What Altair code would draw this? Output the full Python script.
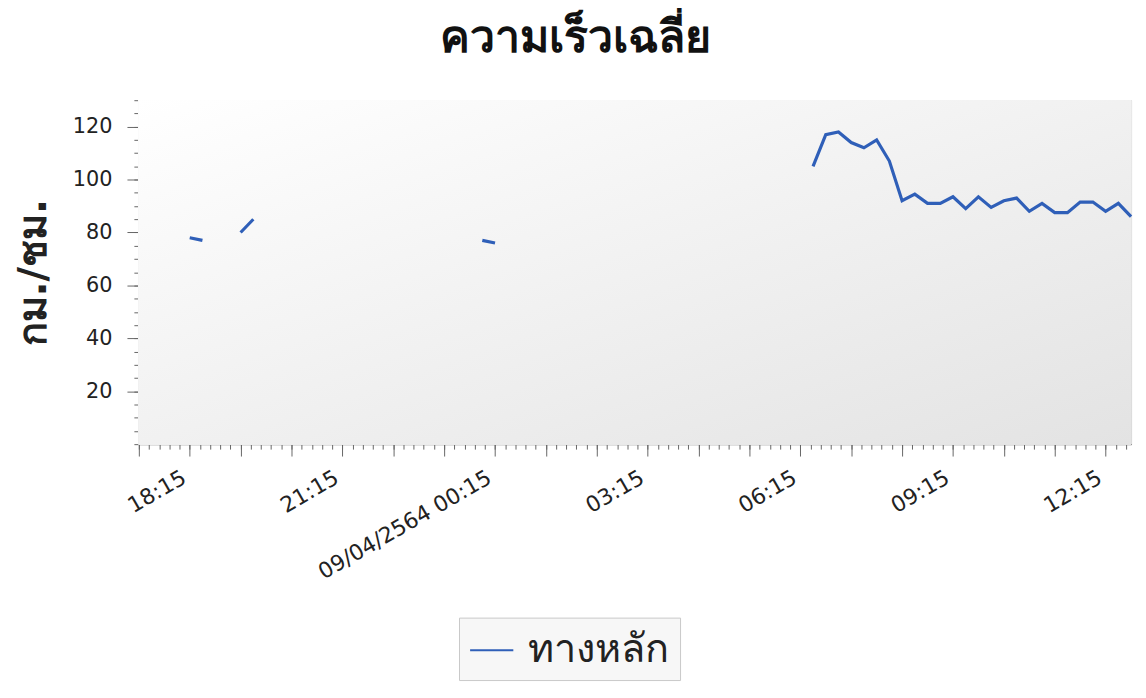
import altair as alt
import pandas as pd

TITLE = "ความเร็วเฉลี่ย"
Y_TITLE = "กม./ชม."
SERIES = "ทางหลัก"
MIDNIGHT_LABEL = "09/04/2564 00:15"

times = [
    "2021-04-08T18:15:00", "2021-04-08T18:30:00", "2021-04-08T18:45:00",
    "2021-04-08T19:15:00", "2021-04-08T19:30:00", "2021-04-08T19:45:00",
    "2021-04-09T00:00:00", "2021-04-09T00:15:00", "2021-04-09T00:30:00",
    "2021-04-09T06:30:00", "2021-04-09T06:45:00", "2021-04-09T07:00:00",
    "2021-04-09T07:15:00", "2021-04-09T07:30:00", "2021-04-09T07:45:00",
    "2021-04-09T08:00:00", "2021-04-09T08:15:00", "2021-04-09T08:30:00",
    "2021-04-09T08:45:00", "2021-04-09T09:00:00", "2021-04-09T09:15:00",
    "2021-04-09T09:30:00", "2021-04-09T09:45:00", "2021-04-09T10:00:00",
    "2021-04-09T10:15:00", "2021-04-09T10:30:00", "2021-04-09T10:45:00",
    "2021-04-09T11:00:00", "2021-04-09T11:15:00", "2021-04-09T11:30:00",
    "2021-04-09T11:45:00", "2021-04-09T12:00:00", "2021-04-09T12:15:00",
    "2021-04-09T12:30:00", "2021-04-09T12:45:00",
]
speeds = [
    78, 77, None,
    80, 85, None,
    77, 76, None,
    105, 117, 118,
    114, 112, 115,
    107, 92, 94.5,
    91, 91, 93.5,
    89, 93.5, 89.5,
    92, 93, 88,
    91, 87.5, 87.5,
    91.5, 91.5, 88,
    91, 86,
]

x_start = pd.Timestamp("2021-04-08T17:15:00")
x_end = pd.Timestamp("2021-04-09T12:45:00")
y_major = [20, 40, 60, 80, 100, 120]
y_minor = list(range(0, 131, 5))


def dt(ts):
    return alt.DateTime(year=ts.year, month=ts.month, date=ts.day,
                        hours=ts.hour, minutes=ts.minute)


major_ticks = [dt(t) for t in pd.date_range(x_start, x_end, freq="60min")]
minor_ticks = [dt(t) for t in pd.date_range(x_start, x_end, freq="12min")]

df = pd.DataFrame({"time": times, "speed": speeds, "series": SERIES})

FONT = "DejaVu Sans"
BLUE = "#2f5fb8"
W, H = 1001, 347

label_expr = (
    "hours(datum.value) % 3 != 0 ? '' : "
    "(hours(datum.value) == 0 ? '" + MIDNIGHT_LABEL + "' : timeFormat(datum.value, '%H:%M'))"
)

xscale = alt.Scale(domain=[dt(x_start), dt(x_end)])
yscale = alt.Scale(domain=[0, 130], nice=False)

bg = alt.Chart(df).mark_rect(
    color=alt.Gradient(
        gradient="linear", x1=0, y1=0, x2=1, y2=1,
        stops=[alt.GradientStop(color="#ffffff", offset=0),
               alt.GradientStop(color="#e3e3e3", offset=1)],
    )
).encode(x=alt.value(0), x2=alt.value("width"), y=alt.value(0), y2=alt.value("height"))

line = alt.Chart(df).mark_line(
    strokeWidth=3.2, invalid="break-paths-show-domains"
).encode(
    x=alt.X("time:T", scale=xscale, title=None, axis=alt.Axis(
        values=major_ticks, labelExpr=label_expr, labelAngle=330,
        labelAlign="right", labelBaseline="bottom", labelOverlap=False,
        labelLimit=400,
        labelFontSize=22, labelFont=FONT, labelColor="#222222",
        tickSize=12, tickColor="#666666", domainColor="#666666",
        grid=False, labelPadding=30, orient="bottom")),
    y=alt.Y("speed:Q", scale=yscale, axis=alt.Axis(
        values=y_major, title=Y_TITLE, titleFontSize=40, titleFont=FONT,
        titleFontWeight="bold", titleColor="#222222", titlePadding=19,
        labelFontSize=21, labelFont=FONT, labelColor="#222222",
        tickSize=12, tickColor="#666666", domainColor="#666666",
        grid=True, gridColor="#d8d8d8", labelPadding=15, orient="left")),
    color=alt.Color("series:N", scale=alt.Scale(range=[BLUE]), legend=alt.Legend(
        title=None, orient="none", legendX=323, legendY=522,
        symbolType="stroke", symbolSize=1900, symbolStrokeWidth=2,
        labelFontSize=40, labelFont=FONT, labelColor="#222222",
        fillColor="#f7f7f7", strokeColor="#c8c8c8", padding=10,
        labelOffset=14)),
)

minor = alt.Chart(df).mark_line(opacity=0).encode(
    x=alt.X("time:T", scale=xscale, axis=alt.Axis(
        values=minor_ticks, labels=False, tickSize=5, tickColor="#666666",
        domain=False, grid=False, title=None, orient="bottom")),
    y=alt.Y("speed:Q", scale=yscale, axis=alt.Axis(
        values=y_minor, labels=False, tickSize=5, tickColor="#666666",
        domain=False, grid=False, title=None, orient="left")),
)

chart = alt.layer(bg, line, minor).resolve_axis(
    x="independent", y="independent"
).properties(
    width=W, height=H,
    padding={"left": 5, "top": 5, "right": 0, "bottom": 5},
    title=alt.TitleParams(TITLE, fontSize=45, font=FONT, fontWeight="bold",
                          color="#111111", anchor="middle", frame="bounds",
                          offset=34, dy=-5),
).configure_view(stroke="#b0b0b0")

chart.save("out.html", embed_options={"renderer": "svg", "actions": False})
